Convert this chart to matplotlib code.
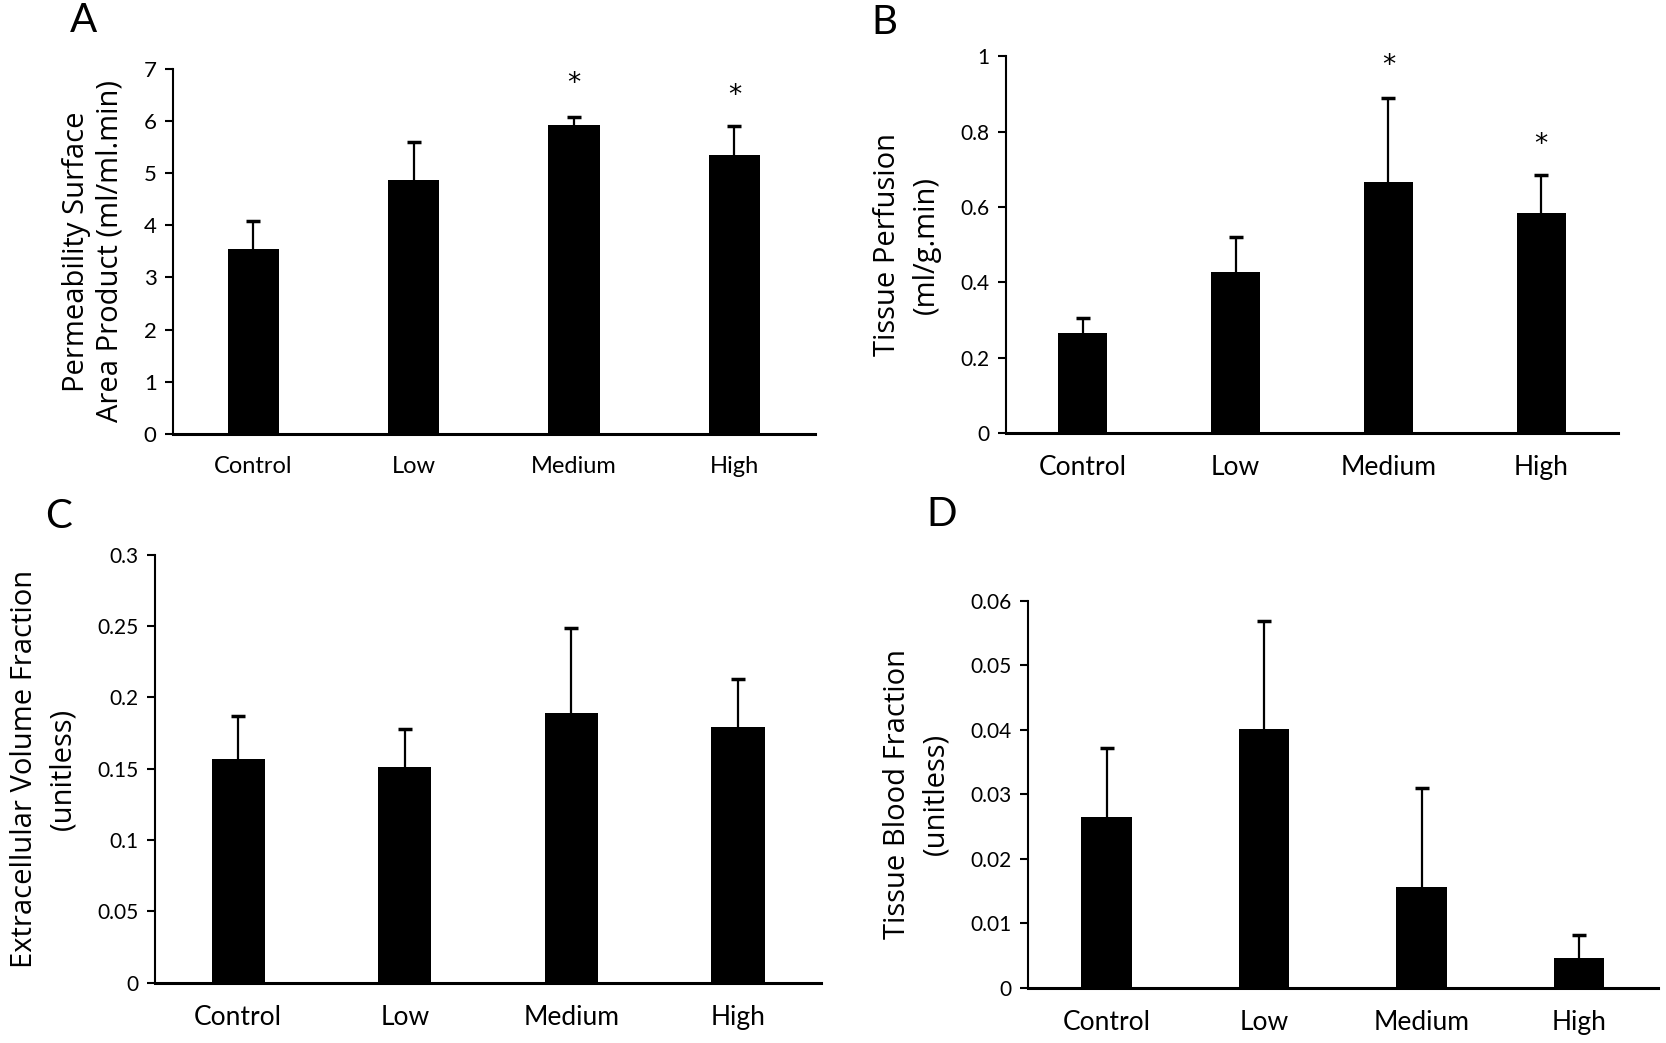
import matplotlib
matplotlib.use('Agg')
import matplotlib.pyplot as plt
from matplotlib.ticker import FuncFormatter

groups = ['Control', 'Low', 'Medium', 'High']

ps_mean = [3.54, 4.87, 5.92, 5.35]
ps_err = [0.54, 0.73, 0.16, 0.56]
perf_mean = [0.264, 0.428, 0.667, 0.583]
perf_err = [0.041, 0.093, 0.221, 0.102]
evf_mean = [0.157, 0.151, 0.189, 0.179]
evf_err = [0.030, 0.027, 0.060, 0.034]
tbf_mean = [0.0264, 0.0401, 0.0156, 0.0046]
tbf_err = [0.0108, 0.0168, 0.0154, 0.0035]

# significance stars: (group index, y position)
ps_stars = [(2, 6.70), (3, 6.48)]
perf_stars = [(2, 0.975), (3, 0.765)]

tick_font = ['Lato', 'DejaVu Sans']
label_font = ['Open Sans', 'DejaVu Sans']

fig = plt.figure(figsize=(16.66, 10.43), dpi=100)


def panel(rect, means, errs, ylim, yticks, ylabel, letter, letter_xy,
          xsize=19, ysize=15, lsize=21, lspace=1.45, stars=None):
    ax = fig.add_axes(rect)
    x = list(range(len(groups)))
    ax.bar(x, means, width=0.32, color='black', zorder=2)
    # upper error bars only
    tops = [m + e for m, e in zip(means, errs)]
    ax.vlines(x, means, tops, color='black', linewidth=1.6, zorder=1)
    ax.plot(x, tops, ls='none', marker='_', markersize=10, markeredgewidth=2.5,
            color='black', zorder=1)
    ax.set_xlim(-0.5, 3.5)
    ax.set_ylim(*ylim)
    ax.set_yticks(yticks)
    ax.yaxis.set_major_formatter(FuncFormatter(lambda v, p: '%g' % round(v, 4)))
    ax.set_xticks(x)
    ax.set_xticklabels(groups, family=tick_font, fontsize=xsize)
    for t in ax.get_yticklabels():
        t.set_family(tick_font)
        t.set_fontsize(ysize)
    ax.tick_params(axis='x', length=0, pad=16)
    ax.tick_params(axis='y', length=6, width=1.5, direction='out', pad=6)
    ax.spines['top'].set_visible(False)
    ax.spines['right'].set_visible(False)
    ax.spines['left'].set_linewidth(1.5)
    ax.spines['bottom'].set_linewidth(2.2)
    ax.set_ylabel(ylabel, family=label_font, fontsize=lsize, linespacing=lspace,
                  labelpad=14)
    if stars:
        for i, y in stars:
            ax.text(i, y, '*', ha='center', va='center', fontsize=19,
                    family='DejaVu Sans')
    fig.text(letter_xy[0], letter_xy[1], letter, family=tick_font, fontsize=29,
             ha='center', va='center')
    return ax


panel([0.104, 0.584, 0.385, 0.350], ps_mean, ps_err, (0, 7), range(0, 8),
      'Permeability Surface\nArea Product (ml/ml.min)', 'A', (0.050, 0.980),
      xsize=17, ysize=16, lspace=1.2, stars=ps_stars)
panel([0.604, 0.585, 0.367, 0.361], perf_mean, perf_err, (0, 1),
      [0, 0.2, 0.4, 0.6, 0.8, 1.0],
      'Tissue Perfusion\n(ml/g.min)', 'B', (0.531, 0.978),
      stars=perf_stars)
panel([0.093, 0.058, 0.400, 0.410], evf_mean, evf_err, (0, 0.3),
      [0, 0.05, 0.1, 0.15, 0.2, 0.25, 0.3],
      'Extracellular Volume Fraction\n(unitless)', 'C', (0.035, 0.505))
panel([0.617, 0.053, 0.378, 0.371], tbf_mean, tbf_err, (0, 0.06),
      [0, 0.01, 0.02, 0.03, 0.04, 0.05, 0.06],
      'Tissue Blood Fraction\n(unitless)', 'D', (0.565, 0.507))

fig.savefig('out.png', dpi=100)
